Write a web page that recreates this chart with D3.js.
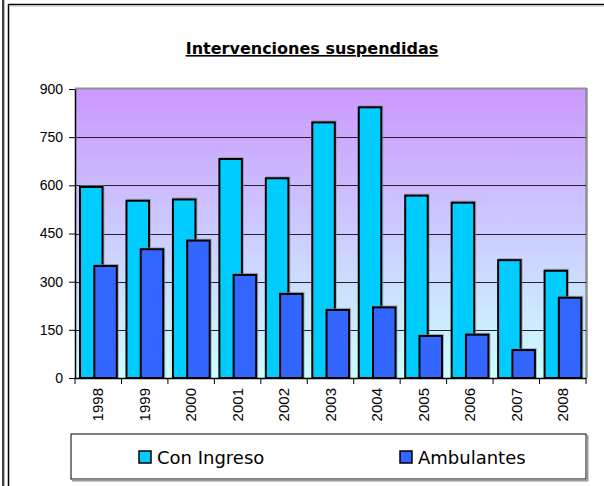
<!DOCTYPE html>
<html>
<head>
<meta charset="utf-8">
<script src="https://cdn.jsdelivr.net/npm/d3@7"></script>
<style>
  body { margin: 0; background: #fff; }
  svg { display: block; }
</style>
</head>
<body>
<div id="chart"></div>
<script>
// data
var years = ["1998", "1999", "2000", "2001", "2002", "2003", "2004", "2005", "2006", "2007", "2008"];
var conIngreso = [595, 552, 556, 682, 622, 796, 843, 568, 546, 367, 334];
var ambulantes = [349, 401, 428, 321, 262, 212, 220, 131, 135, 87, 250];
var yTicks = [0, 150, 300, 450, 600, 750, 900];
var seriesNames = ["Con Ingreso", "Ambulantes"];
var seriesColors = ["#00CCFF", "#3366FF"];

var W = 604, H = 486;
var plot = {left: 75, top: 89, right: 586, bottom: 378};

var svg = d3.select("#chart").append("svg")
    .attr("width", W)
    .attr("height", H);

// outer frame lines
svg.append("line").attr("x1", 3).attr("x2", 3).attr("y1", 0).attr("y2", H)
  .attr("stroke", "#000").attr("stroke-width", 1.5);
svg.append("line").attr("x1", 4.5).attr("x2", 4.5).attr("y1", 0).attr("y2", H)
  .attr("stroke", "#bbb").attr("stroke-width", 1);
svg.append("line").attr("x1", 8.5).attr("x2", 8.5).attr("y1", 4).attr("y2", H)
  .attr("stroke", "#000").attr("stroke-width", 1.5);
svg.append("line").attr("x1", 8).attr("x2", W).attr("y1", 4.5).attr("y2", 4.5)
  .attr("stroke", "#000").attr("stroke-width", 1.5);
svg.append("line").attr("x1", 9).attr("x2", W).attr("y1", 6).attr("y2", 6)
  .attr("stroke", "#bbb").attr("stroke-width", 1);

// title
svg.append("text")
  .attr("x", 312)
  .attr("y", 54)
  .attr("text-anchor", "middle")
  .style("font-family", "'Comic Sans MS', 'DejaVu Sans', sans-serif")
  .style("font-weight", "bold")
  .style("font-size", "16px")
  .style("text-decoration", "underline")
  .text("Intervenciones suspendidas");

// scales
var x = d3.scaleBand()
  .domain(years)
  .range([plot.left, plot.right])
  .padding(0);

var y = d3.scaleLinear()
  .domain([0, 900])
  .range([plot.bottom, plot.top]);

// background gradient
var defs = svg.append("defs");
var grad = defs.append("linearGradient")
  .attr("id", "bg")
  .attr("x1", 0).attr("y1", 0).attr("x2", 0).attr("y2", 1);
grad.append("stop").attr("offset", "0%").attr("stop-color", "#CC99FF");
grad.append("stop").attr("offset", "100%").attr("stop-color", "#CCFFFF");

svg.append("rect")
  .attr("x", plot.left)
  .attr("y", plot.top)
  .attr("width", plot.right - plot.left)
  .attr("height", plot.bottom - plot.top)
  .attr("fill", "url(#bg)");

// plot border (gray top/right)
svg.append("line")
  .attr("x1", plot.left).attr("x2", plot.right + 1)
  .attr("y1", plot.top - 0.5).attr("y2", plot.top - 0.5)
  .attr("stroke", "#909090").attr("stroke-width", 2);
svg.append("line")
  .attr("x1", plot.right + 0.5).attr("x2", plot.right + 0.5)
  .attr("y1", plot.top - 1).attr("y2", plot.bottom)
  .attr("stroke", "#909090").attr("stroke-width", 2.5);

// gridlines
svg.append("g")
  .selectAll("line")
  .data(yTicks.filter(function(d) { return d > 0 && d < 900; }))
  .enter().append("line")
    .attr("x1", plot.left)
    .attr("x2", plot.right)
    .attr("y1", function(d) { return Math.round(y(d)) + 0.5; })
    .attr("y2", function(d) { return Math.round(y(d)) + 0.5; })
    .attr("stroke", "#222")
    .attr("stroke-width", 1);

// bars
var bw = x.bandwidth();
var barW = bw * 0.485;
var offs = [bw * 0.108, bw * 0.415];
var allSeries = [conIngreso, ambulantes];

allSeries.forEach(function(vals, s) {
  // soft shadow
  svg.append("g")
    .selectAll("rect")
    .data(vals)
    .enter().append("rect")
      .attr("x", function(d, i) { return x(years[i]) + offs[s] + 1; })
      .attr("y", function(d) { return y(d) - 1; })
      .attr("width", barW)
      .attr("height", function(d) { return y(0) - y(d) + 1; })
      .attr("fill", "none")
      .attr("stroke", "#888")
      .attr("stroke-opacity", 0.6)
      .attr("stroke-width", 2);
  svg.append("g")
    .selectAll("rect")
    .data(vals)
    .enter().append("rect")
      .attr("x", function(d, i) { return x(years[i]) + offs[s]; })
      .attr("y", function(d) { return y(d); })
      .attr("width", barW)
      .attr("height", function(d) { return y(0) - y(d); })
      .attr("fill", seriesColors[s])
      .attr("stroke", "#000")
      .attr("stroke-width", 2);
});

// y axis
var yAxis = svg.append("g")
  .attr("transform", "translate(" + plot.left + ",0)")
  .call(d3.axisLeft(y).tickValues(yTicks).tickSize(6).tickPadding(6).tickSizeOuter(0));
yAxis.select(".domain").attr("stroke", "#000").attr("stroke-width", 1.5);
yAxis.selectAll(".tick line").attr("stroke", "#000");
yAxis.selectAll("text")
  .style("font-family", "'Liberation Sans', Arial, sans-serif")
  .style("font-size", "14px")
  .attr("fill", "#000");

// x axis: ticks on category boundaries
var xAxis = svg.append("g")
  .attr("transform", "translate(0," + plot.bottom + ")")
  .call(d3.axisBottom(x).tickSize(0).tickSizeOuter(0).tickPadding(0));
xAxis.select(".domain").attr("stroke", "#000").attr("stroke-width", 1.5);
xAxis.selectAll(".tick text")
  .attr("transform", "rotate(-90)")
  .attr("x", -10)
  .attr("y", 0)
  .attr("dy", "0.35em")
  .attr("text-anchor", "end")
  .style("font-family", "'Liberation Sans', Arial, sans-serif")
  .style("font-size", "15px")
  .attr("fill", "#000");

svg.append("g")
  .selectAll("line")
  .data(years.concat(["end"]))
  .enter().append("line")
    .attr("x1", function(d, i) { return plot.left + i * bw; })
    .attr("x2", function(d, i) { return plot.left + i * bw; })
    .attr("y1", plot.bottom)
    .attr("y2", plot.bottom + 6)
    .attr("stroke", "#000")
    .attr("stroke-width", 1);

// legend
var lg = svg.append("g");
lg.append("rect")
  .attr("x", 71).attr("y", 434)
  .attr("width", 515).attr("height", 45)
  .attr("fill", "#fff")
  .attr("stroke", "#000")
  .attr("stroke-width", 1);
lg.append("line")
  .attr("x1", 72).attr("x2", 588).attr("y1", 480.5).attr("y2", 480.5)
  .attr("stroke", "#999").attr("stroke-width", 2);
lg.append("line")
  .attr("x1", 587.5).attr("x2", 587.5).attr("y1", 435).attr("y2", 481)
  .attr("stroke", "#999").attr("stroke-width", 2);

var legX = [139, 400];
seriesNames.forEach(function(name, i) {
  lg.append("rect")
    .attr("x", legX[i]).attr("y", 451)
    .attr("width", 12).attr("height", 12)
    .attr("fill", seriesColors[i])
    .attr("stroke", "#000")
    .attr("stroke-width", 1.5);
  lg.append("text")
    .attr("x", legX[i] + 18)
    .attr("y", 464)
    .style("font-family", "'Comic Sans MS', 'DejaVu Sans', sans-serif")
    .style("font-size", "18px")
    .text(name);
});
</script>
</body>
</html>
